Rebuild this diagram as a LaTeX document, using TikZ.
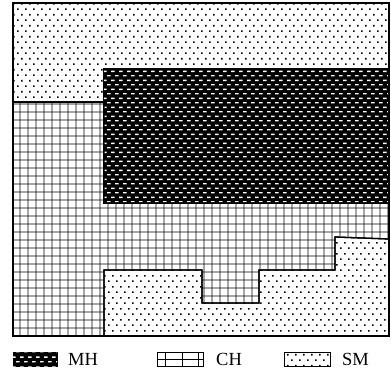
\documentclass[tikz,border=0pt]{standalone}
\usepackage{fontspec}
\setmainfont{Liberation Serif}
\usetikzlibrary{patterns.meta}

% fill patterns of the three soil classes
\tikzdeclarepattern{
  name=smdots, type=uncolored,
  bottom left={(0pt,0pt)}, top right={(8.3pt,11.4pt)},
  tile size={(8.3pt,11.4pt)},
  code={
    \fill (1.3pt,2.1pt) rectangle (2.9pt,3.7pt);
    \fill (5.45pt,7.8pt) rectangle (7.05pt,9.4pt);
  }
}
\tikzdeclarepattern{
  name=chgrid, type=uncolored,
  bottom left={(0pt,0pt)}, top right={(8.4pt,8.4pt)},
  tile size={(8.4pt,8.4pt)},
  code={
    \fill (0pt,3.85pt) rectangle (8.4pt,4.55pt);
    \fill (3.85pt,0pt) rectangle (4.55pt,8.4pt);
  }
}
\tikzdeclarepattern{
  name=mhdash, type=uncolored,
  bottom left={(0pt,0pt)}, top right={(8.3pt,9.4pt)},
  tile size={(8.3pt,9.4pt)},
  code={
    \fill (0.2pt,1.6pt) rectangle (4.0pt,3.1pt);
    \fill (4.35pt,6.3pt) rectangle (8.15pt,7.8pt);
  }
}

\begin{document}
\begin{tikzpicture}[x=1pt, y=-1pt, line join=miter,
    sm/.style={pattern=smdots},
    ch/.style={pattern=chgrid},
    mh/.style={fill=black, postaction={pattern=mhdash, pattern color=white}},
    zone/.style={draw, line width=1.3pt},
    key/.style={font=\fontsize{18.5}{22}\selectfont, anchor=west, inner sep=0pt}
]
\useasboundingbox (0,0) rectangle (391,373);

% soil zones
\path[sm, zone] (13,3) -- (389,3) -- (389,69) -- (104,69) -- (104,102) -- (13,102) -- cycle;
\path[mh, zone] (104,69) rectangle (389,203);
\path[ch, zone] (13,102) -- (104,102) -- (104,203) -- (389,203) -- (389,239) -- (335,237)
    -- (335,270) -- (259,270) -- (259,303) -- (202,303) -- (202,270) -- (104,270)
    -- (104,336) -- (13,336) -- cycle;
\path[sm, zone] (104,336) -- (104,270) -- (202,270) -- (202,303) -- (259,303) -- (259,270)
    -- (335,270) -- (335,237) -- (389,239) -- (389,336) -- cycle;
\draw[line width=1.5pt] (13,3) rectangle (389,336);

% legend
\path[mh, draw, line width=0.8pt] (13,352) rectangle (57,366);
\node[key] (mhkey) at (68,359.5) {MH};
\draw[line width=0.8pt] (157,352) rectangle (203,366) (157,359) -- (203,359);
\foreach \x in {165,182,198} \draw[line width=0.8pt] (\x,352) -- (\x,366);
\node[key] (chkey) at (216,359.5) {CH};
\path[sm, draw, line width=0.8pt] (284,352) rectangle (330,366);
\node[key] (smkey) at (342,359.5) {SM};
\end{tikzpicture}
\end{document}
